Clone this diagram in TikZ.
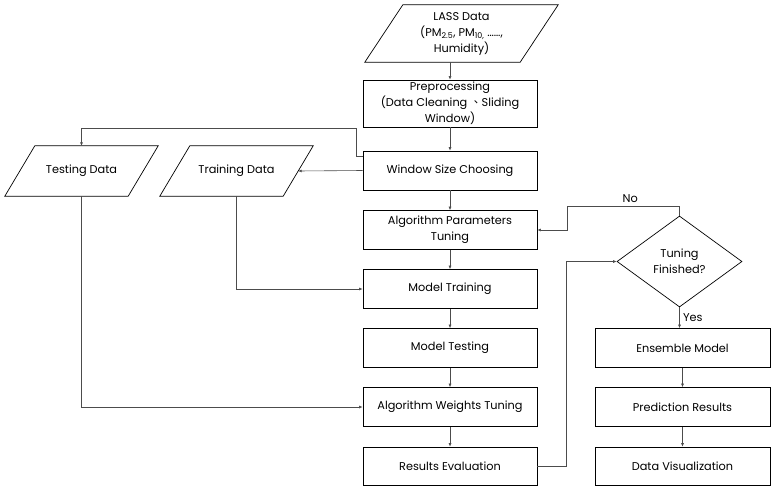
\documentclass[tikz,border=0pt]{standalone}
\usepackage{fontspec}
\setmainfont{Poppins}
\newfontfamily\cjk{Noto Sans CJK TC}
\usetikzlibrary{shapes.geometric,arrows.meta}

% parallelogram round a named node: #1 node, #2 slant
\newcommand\dataframe[2]{\draw [line width=0.7pt] ([xshift=#2]#1.north west) -- (#1.north east)
  -- ([xshift=-#2]#1.south east) -- (#1.south west) -- cycle;}

\begin{document}
\begin{tikzpicture}[x=1pt, y=-1pt, font=\fontsize{11.3}{16}\selectfont,
    box/.style={draw, line width=0.7pt, minimum width=174pt, minimum height=39pt, align=center, inner sep=2pt},
    data/.style={minimum width=153pt, minimum height=50pt, align=center, inner sep=1pt},
    test/.style={draw, line width=0.7pt, diamond, minimum width=125pt, minimum height=91pt, align=center, inner sep=0pt},
    arr/.style={draw=black!70, line width=0.6pt, -{Latex[length=3.5pt,width=3pt]}}]

  \useasboundingbox (0,0) rectangle (776,492);

  \node [data, minimum width=193pt, minimum height=57pt] (lass) at (461.5,33.5)
        {LASS Data\\ (PM\textsubscript{2.5}, PM\textsubscript{10,} ……,\\ Humidity)};
  \dataframe{lass}{38pt}
  \node [box, minimum height=47pt] (pre) at (450,103.5) {Preprocessing\\ (Data Cleaning {\cjk 、}Sliding\\ Window)};
  \node [box] (win) at (450,170.5) {Window Size Choosing};
  \node [box] (apt) at (450,230) {Algorithm Parameters\\ Tuning};
  \node [box] (mtr) at (450,289) {Model Training};
  \node [box] (mte) at (450,348) {Model Testing};
  \node [box] (awt) at (450,407) {Algorithm Weights Tuning};
  \node [box, minimum height=38pt] (rev) at (450,466) {Results Evaluation};

  \node [data] (tst) at (81.5,171) {Testing Data};
  \dataframe{tst}{30pt}
  \node [data] (trn) at (236.5,171) {Training Data};
  \dataframe{trn}{30pt}

  \node [test] (fin) at (679.5,261.5) {Tuning\\ Finished?};
  \node [box, minimum width=175pt] (ens) at (682.5,348) {Ensemble Model};
  \node [box, minimum width=175pt] (prd) at (682.5,407) {Prediction Results};
  \node [box, minimum width=175pt, minimum height=38pt] (vis) at (682.5,466) {Data Visualization};

  \draw [arr] (lass.south -| pre.north) -- (pre.north);
  \draw [arr] (pre) -- (win);
  \draw [arr] (win) -- (apt);
  \draw [arr] (apt) -- (mtr);
  \draw [arr] (mtr) -- (mte);
  \draw [arr] (mte) -- (awt);
  \draw [arr] (awt) -- (rev);

  \draw [arr] (win.west) -- ([xshift=-15pt]trn.east);
  \draw [arr] ([yshift=-6pt]win.north west) -- ++(-6,0) |- ([yshift=-1pt]tst.north |- pre.south) -- (tst.north);
  \draw [arr] (trn.south) |- (mtr.west);
  \draw [arr] (tst.south) |- (awt.west);

  \draw [arr] (rev.east) -- ++(29,0) |- (fin.west);
  \draw [arr] (fin.north) -- ++(0,-9) -| node [pos=0.22, above] {No} ([xshift=30pt]apt.east) -- (apt.east);
  \draw [arr] (fin.south) -- node [right] {Yes} (fin.south |- ens.north);
  \draw [arr] (ens) -- (prd);
  \draw [arr] (prd) -- (vis);
\end{tikzpicture}
\end{document}
